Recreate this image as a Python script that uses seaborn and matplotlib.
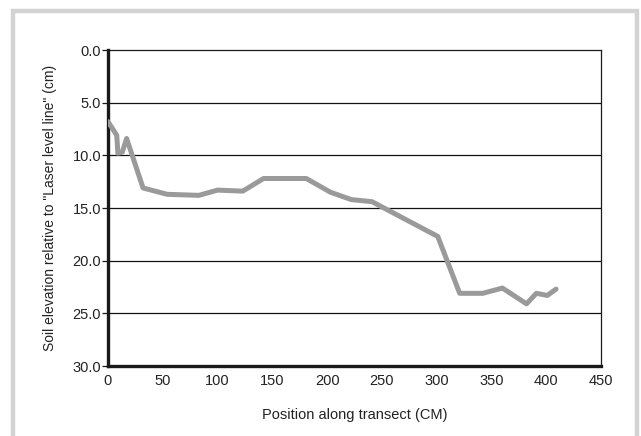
import numpy as np
import pandas as pd
import matplotlib
matplotlib.use("Agg")
import matplotlib.pyplot as plt
from matplotlib.patches import Rectangle
from matplotlib.ticker import FormatStrFormatter
import seaborn as sns

# Datos
posicion = [0, 8, 9, 13, 17, 32, 54, 83, 100, 123, 142, 181, 203, 222, 241, 301,
            321, 342, 360, 382, 391, 401, 409]
elevacion = [6.8, 8.1, 9.8, 9.7, 8.4, 13.1, 13.7, 13.8, 13.3, 13.4, 12.2, 12.2, 13.5,
             14.2, 14.4, 17.7, 23.1, 23.1, 22.6, 24.1, 23.1, 23.3, 22.7]
yticks = [0, 5, 10, 15, 20, 25, 30]
xticks = [0, 50, 100, 150, 200, 250, 300, 350, 400, 450]

df = pd.DataFrame({"posicion": posicion, "elevacion": elevacion})

sns.set_style("white")
plt.rcParams["font.family"] = ["Liberation Sans Narrow", "Liberation Sans", "DejaVu Sans"]

fig = plt.figure(figsize=(6.41, 4.36), dpi=100)
ax = fig.add_axes([108 / 641, 1 - 366 / 436, (601 - 108) / 641, (366 - 50) / 436])

# marco gris alrededor de la figura
fig.add_artist(Rectangle((13 / 641, -0.1), (636.5 - 13) / 641, 1.1 - 11 / 436,
                         transform=fig.transFigure, fill=False,
                         edgecolor="#d3d3d3", linewidth=3.2))

for y in yticks[1:-1]:
    ax.axhline(y, color="#111111", linewidth=0.9, zorder=1)

sns.lineplot(data=df, x="posicion", y="elevacion", ax=ax, color="#9a9a9a",
             linewidth=3.6, sort=False, zorder=3)

ax.set_xlim(0, 450)
ax.set_ylim(30, 0)
ax.set_xticks(xticks)
ax.set_yticks(yticks)
ax.yaxis.set_major_formatter(FormatStrFormatter("%.1f"))

for s in ["left", "bottom"]:
    ax.spines[s].set_linewidth(2.4)
    ax.spines[s].set_color("#1a1a1a")
for s in ["top", "right"]:
    ax.spines[s].set_linewidth(0.9)
    ax.spines[s].set_color("#1a1a1a")

ax.tick_params(axis="y", length=4, width=0.9, color="#1a1a1a", labelsize=10.5,
               labelcolor="#222222", pad=1, left=True)
ax.tick_params(axis="x", length=0, labelsize=10.5, labelcolor="#222222", pad=6)

ax.set_xlabel("Position along transect (CM)", fontsize=10.5, color="#222222", labelpad=14)
ax.set_ylabel('Soil elevation relative to "Laser level line" (cm)', fontsize=10,
              color="#222222", labelpad=11)

fig.savefig("out.png", dpi=100)
